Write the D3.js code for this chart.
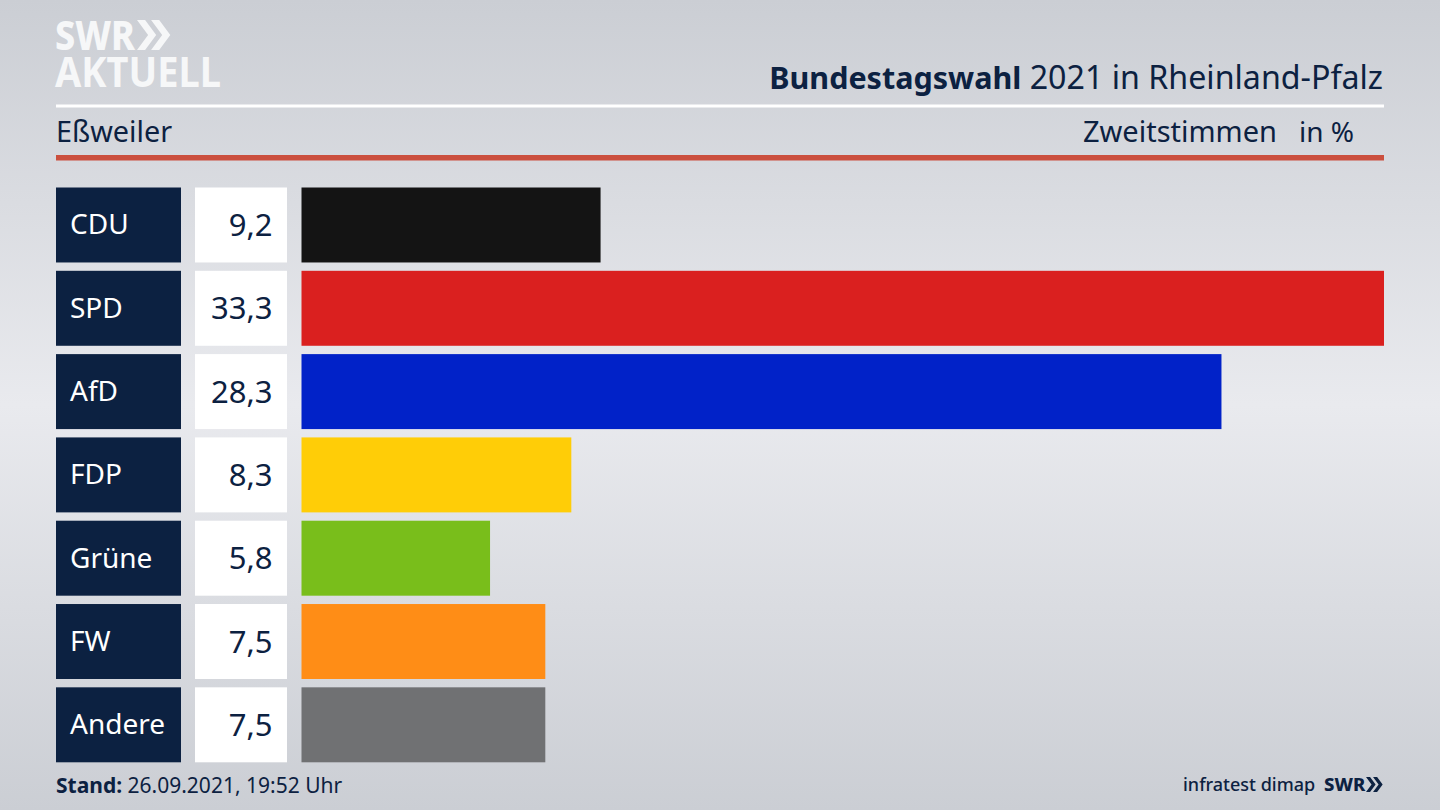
<!DOCTYPE html>
<html>
<head>
<meta charset="utf-8">
<script src="https://cdn.jsdelivr.net/npm/d3@7"></script>
<style>
  html, body { margin: 0; padding: 0; background: #d8dade; overflow: hidden; }
  text { font-family: "Noto Sans", sans-serif; }
</style>
</head>
<body>
<script>
const parties = ["CDU", "SPD", "AfD", "FDP", "Grüne", "FW", "Andere"];
const shares = [9.2, 33.3, 28.3, 8.3, 5.8, 7.5, 7.5];
const partyColors = ["#141414", "#da201f", "#0122c8", "#ffcd07", "#79be1b", "#ff8d16", "#707173"];

const width = 1440, height = 810;
const navy = "#0c2141";

const svg = d3.select("body").append("svg")
    .attr("width", width)
    .attr("height", height)
    .style("display", "block");

// background fades light towards the middle
const grad = svg.append("defs").append("linearGradient")
    .attr("id", "bg")
    .attr("x1", 0).attr("x2", 0).attr("y1", 0).attr("y2", 1);
grad.append("stop").attr("offset", "0%").attr("stop-color", "#cbced4");
grad.append("stop").attr("offset", "50%").attr("stop-color", "#e9eaee");
grad.append("stop").attr("offset", "100%").attr("stop-color", "#cbced4");

svg.append("rect").attr("width", width).attr("height", height).attr("fill", "url(#bg)");

const y = d3.scaleBand()
    .domain(parties)
    .range([187.5, 762.3])
    .paddingInner(0.1);

const x = d3.scaleLinear()
    .domain([0, 33.3])
    .range([301.5, 1384]);

const rows = svg.append("g")
  .selectAll("g")
  .data(parties)
  .join("g")
    .attr("transform", d => `translate(0,${y(d)})`);

rows.append("rect")
    .attr("x", 56)
    .attr("width", 125)
    .attr("height", y.bandwidth())
    .attr("fill", navy);

rows.append("text")
    .attr("x", 70)
    .attr("y", y.bandwidth() / 2 + 9.5)
    .attr("font-size", 28)
    .attr("fill", "#fff")
    .text(d => d);

rows.append("rect")
    .attr("x", 195)
    .attr("width", 92)
    .attr("height", y.bandwidth())
    .attr("fill", "#fff");

rows.append("text")
    .attr("x", 272.5)
    .attr("y", y.bandwidth() / 2 + 11)
    .attr("font-size", 31)
    .attr("text-anchor", "end")
    .attr("fill", navy)
    .text((d, i) => d3.format(".1f")(shares[i]).replace(".", ","));

rows.append("rect")
    .attr("x", x(0))
    .attr("width", (d, i) => x(shares[i]) - x(0))
    .attr("height", y.bandwidth())
    .attr("fill", (d, i) => partyColors[i]);

// header
svg.append("rect").attr("x", 56).attr("y", 104.5).attr("width", 1328).attr("height", 3).attr("fill", "#fff");
svg.append("rect").attr("x", 56).attr("y", 155).attr("width", 1328).attr("height", 5.5).attr("fill", "#cb4f3e");

const title = svg.append("text")
    .attr("x", 1383)
    .attr("y", 89)
    .attr("text-anchor", "end")
    .attr("fill", navy);
title.append("tspan").attr("font-weight", 700).attr("font-size", 30.5).text("Bundestagswahl");
title.append("tspan").attr("font-size", 32.2).text(" 2021 in Rheinland-Pfalz");

svg.append("text")
    .attr("x", 56)
    .attr("y", 142)
    .attr("font-size", 28.8)
    .attr("fill", navy)
    .text("Eßweiler");

svg.append("text")
    .attr("x", 1277)
    .attr("y", 142)
    .attr("text-anchor", "end")
    .attr("font-size", 29)
    .attr("fill", navy)
    .text("Zweitstimmen");

svg.append("text")
    .attr("x", 1354)
    .attr("y", 142)
    .attr("text-anchor", "end")
    .attr("font-size", 28)
    .attr("fill", navy)
    .text("in %");

// logo
function chevrons(g, px, py, h, color) {
  const w = h * 0.37, t = h * 0.27;
  [0, 1].forEach(i => {
    const ox = px + i * (w * 1.27);
    g.append("path")
      .attr("d", `M${ox},${py} L${ox + t},${py} L${ox + t + w},${py + h / 2} L${ox + t},${py + h} L${ox},${py + h} L${ox + w},${py + h / 2} Z`)
      .attr("fill", color);
  });
}

const logo = svg.append("g");
logo.append("text")
    .attr("x", 55)
    .attr("y", 50)
    .attr("font-size", 41)
    .attr("font-weight", 800)
    .attr("textLength", 80)
    .attr("lengthAdjust", "spacingAndGlyphs")
    .attr("fill", "#f6f7f8")
    .text("SWR");
chevrons(logo, 137, 20, 30, "#f6f7f8");
logo.append("text")
    .attr("x", 55)
    .attr("y", 87)
    .attr("font-size", 41)
    .attr("font-weight", 700)
    .attr("textLength", 166)
    .attr("lengthAdjust", "spacingAndGlyphs")
    .attr("fill", "#f6f7f8")
    .text("AKTUELL");

// footer
const stand = svg.append("text")
    .attr("x", 56)
    .attr("y", 793)
    .attr("fill", navy);
stand.append("tspan").attr("font-weight", 700).attr("font-size", 21).text("Stand:");
stand.append("tspan").attr("font-size", 21).text(" 26.09.2021, 19:52 Uhr");

svg.append("text")
    .attr("x", 1183)
    .attr("y", 791)
    .attr("font-size", 18)
    .attr("font-weight", 500)
    .attr("fill", navy)
    .text("infratest dimap");

svg.append("text")
    .attr("x", 1324)
    .attr("y", 791)
    .attr("font-size", 18.5)
    .attr("font-weight", 800)
    .attr("fill", navy)
    .text("SWR");
chevrons(svg, 1366, 777, 15, navy);
</script>
</body>
</html>
